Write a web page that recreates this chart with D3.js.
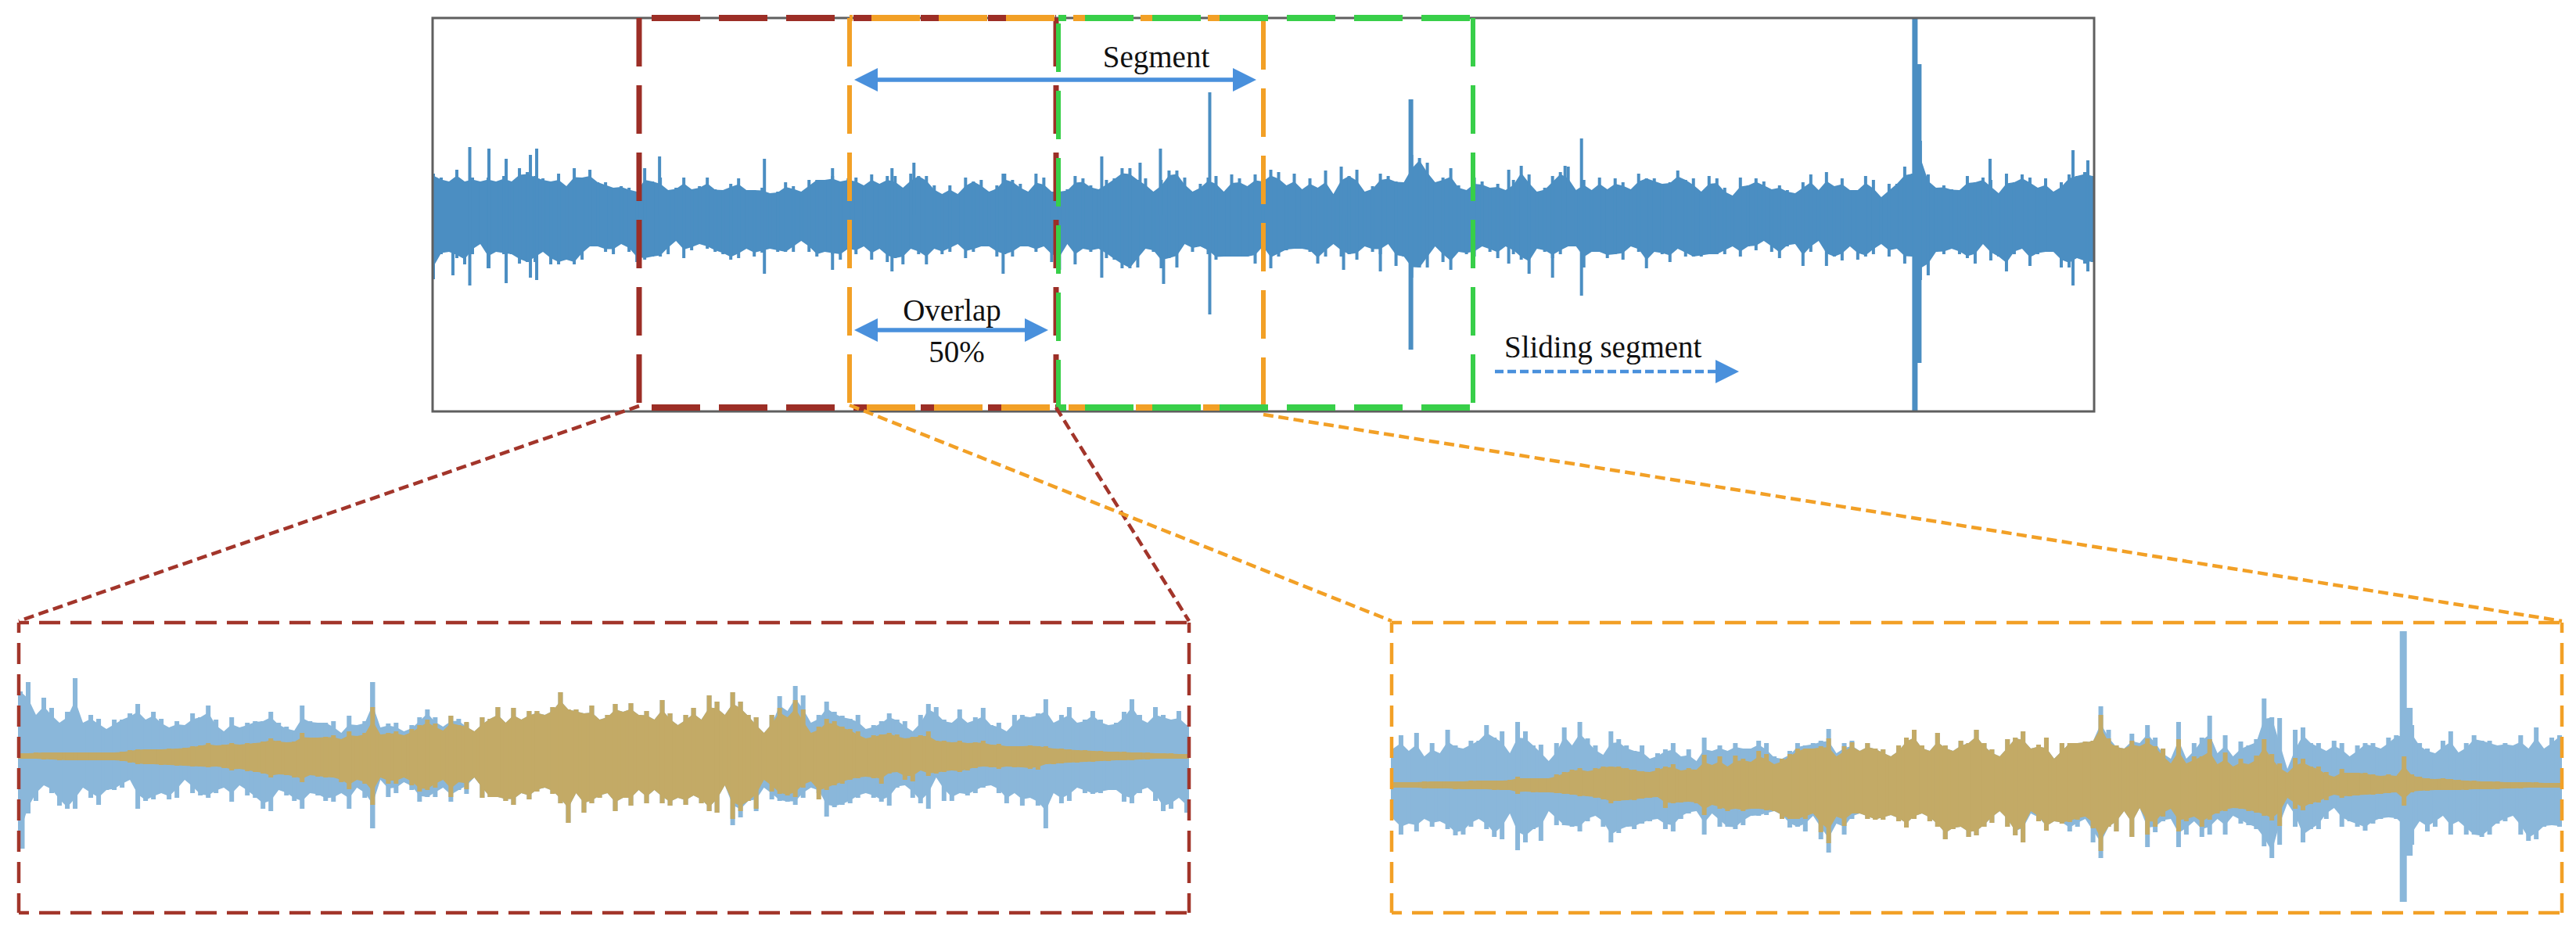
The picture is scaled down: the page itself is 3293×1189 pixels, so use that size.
<!DOCTYPE html>
<html><head><meta charset="utf-8">
<script src="https://d3js.org/d3.v7.min.js"></script>
<style>html,body{margin:0;padding:0;background:#fff}svg{display:block}text{font-family:"Liberation Serif",serif;fill:#111;font-size:39px}</style>
</head><body><svg id="c" width="3293" height="1189"></svg>
<script>
// Full signal: peak amplitude above / below the axis
const topUp=[53,48,43,58,43,48,43,48,43,50,43,60,55,50,47,43,53,37,60,48,58,42,42,35,37,35,30,60,43,48,32,35,48,33,37,48,33,32,40,47,32,32,35,28,30,42,37,30,45,45,45,50,43,47,48,38,52,40,50,50,35,53,50,50,38,27,38,27,48,43,45,30,38,53,45,40,30,53,48,30,30,33,50,47,38,33,45,47,60,60,45,47,30,45,57,57,48,30,40,48,50,30,52,47,37,52,43,58,55,38,53,33,47,35,57,27,62,50,58,30,37,53,50,43,42,77,73,67,42,48,60,38,32,48,43,35,40,32,45,63,52,30,35,50,55,62,32,45,32,48,33,47,42,33,53,47,47,40,42,57,45,47,30,50,47,35,25,48,38,47,43,33,38,32,28,42,52,32,55,37,47,32,32,50,45,23,40,40,62,53,95,52,35,38,33,32,50,42,48,45,28,53,42,52,48,35,47,30,42,52,50,55,50];
const topDown=[82,50,47,55,63,50,37,68,47,50,50,62,60,60,47,63,63,57,63,57,40,40,47,50,37,47,60,57,53,53,50,33,55,45,37,43,47,50,57,55,43,53,48,43,47,47,47,33,47,53,47,50,57,43,50,40,57,43,60,55,63,43,50,63,43,50,47,37,55,47,40,40,53,50,53,40,40,47,40,60,70,37,63,43,47,43,55,57,68,68,67,43,47,68,55,67,37,47,40,50,57,53,53,53,53,62,40,68,53,45,43,43,47,62,53,37,53,50,57,40,47,50,37,65,53,80,67,67,40,60,70,47,50,53,40,47,55,40,50,57,75,43,47,55,50,40,40,67,47,47,55,50,57,40,47,68,47,50,60,43,53,53,53,50,50,50,40,53,40,45,33,47,55,40,37,65,47,33,65,53,58,40,57,53,50,37,53,43,62,53,83,77,47,50,43,50,55,62,37,58,53,72,50,43,65,50,47,47,67,67,55,62,60];
const topSpikeAt=[2.5,4.65,7.1,9.3,12.4,13.2,28.9,42.3,51,58.6,61.4,72.8,85.4,90.3,92.9,93.3,99.2,116.3,121,124.9,137.4,143,144.6,146.7,198.9,209.5,211.4,189.3,189.6];
const topSpikeUp=[0,87,85,72,77,85,75,72,60,60,67,53,75,67,85,0,157,0,0,148,58,0,63,98,72,83,70,252,193];
const topSpikeDown=[77,90,68,87,80,83,0,75,70,72,0,75,80,0,0,88,127,70,72,172,62,80,0,103,0,90,72,251,189];
const topSpikeWidth=[4,4,4,4,4,4,4,4,4,4,4,4,4,4,4,4,4,4,4,6,4,4,4,4,4,4,4,7,11];

// Windowed segment 1 (dark red box)
const seg1BlueUp=[83,95,53,75,62,43,57,100,43,53,48,35,47,47,55,67,47,57,48,37,45,40,55,50,65,47,32,50,37,43,45,45,57,43,38,33,65,45,43,43,45,30,52,40,45,95,37,42,43,32,40,50,60,50,38,52,48,43,32,50,48,63,43,62,47,58,58,53,63,82,60,60,55,65,47,53,67,57,68,53,58,47,72,55,40,53,62,47,78,70,53,82,70,53,50,30,53,77,58,90,78,43,53,70,57,52,48,53,35,40,45,55,47,45,32,53,67,63,47,43,60,43,50,62,40,43,32,53,53,50,55,73,43,53,63,43,47,58,47,40,43,57,73,53,43,63,53,47,58,40];
const seg1BlueDown=[118,73,57,37,47,63,67,67,40,53,62,43,43,40,30,67,57,55,47,55,53,30,47,50,53,47,40,58,37,50,53,67,70,43,50,57,67,47,50,57,58,47,67,40,53,92,30,52,47,33,43,58,52,52,40,58,43,48,27,53,52,52,57,62,47,55,45,40,48,60,85,47,72,60,53,47,70,53,63,43,60,43,60,63,53,62,50,60,70,72,37,88,78,57,70,40,55,57,58,62,53,40,47,77,65,62,60,53,47,53,58,63,40,37,53,60,67,27,57,57,47,50,47,40,37,47,60,47,63,53,63,92,47,60,57,40,47,48,47,43,43,58,60,47,40,57,70,67,53,72];
const seg1GoldUp=[4,4,5,5,5,5,5,5,5,5,5,5,5,6,8,9,9,9,9,10,10,11,13,14,17,14,15,17,15,17,17,19,23,20,18,19,30,24,24,25,27,22,32,26,30,63,28,30,32,27,35,40,47,42,33,52,40,44,32,50,48,63,43,62,47,58,58,53,63,82,60,60,55,65,47,53,67,57,68,53,58,47,72,55,40,53,62,47,78,70,53,82,70,53,50,30,53,62,50,72,60,30,38,48,45,38,35,32,23,27,28,30,28,23,25,27,32,20,20,18,20,17,18,20,15,16,13,13,13,14,13,13,10,10,9,8,8,7,7,6,6,6,5,5,5,4,4,4,3,3];
const seg1GoldDown=[3,3,3,4,4,5,5,5,5,5,5,5,5,6,8,10,10,10,11,11,12,12,13,13,14,13,15,18,16,19,20,22,27,23,24,27,33,24,26,27,27,33,42,30,35,62,27,35,35,27,37,45,43,40,30,52,33,42,27,53,52,52,57,62,47,55,45,40,48,60,85,47,72,60,53,47,70,53,63,43,60,43,60,63,53,62,50,60,70,72,37,80,70,57,67,30,45,48,50,52,40,32,55,43,37,35,30,28,26,28,35,22,20,30,32,18,25,22,20,18,20,18,15,13,14,16,13,14,14,16,17,10,10,9,8,8,7,7,6,6,5,5,5,4,4,3,3,3,3,3];
const seg1SpikeAt=[0.3,7,45];
const seg1SpikeUp=[0,100,95];
const seg1SpikeDown=[118,0,92];

// Windowed segment 2 (orange box)
const seg2BlueUp=[47,64,44,67,37,54,41,71,51,47,57,57,77,61,69,41,81,69,51,52,31,54,74,51,81,60,51,39,69,59,51,44,51,34,41,46,54,37,46,31,61,44,51,44,54,47,47,57,54,37,34,44,54,51,54,57,72,41,54,57,44,54,47,46,37,51,61,71,51,44,67,51,44,57,54,71,54,46,37,59,61,69,47,52,61,34,54,54,54,56,57,101,71,51,47,66,54,77,61,47,34,81,34,54,61,89,41,64,37,56,51,59,111,87,86,21,71,74,54,54,44,57,54,37,51,54,54,47,61,64,64,77,54,47,41,57,69,42,54,64,57,57,51,54,51,64,47,74,47,61,64];
const seg2BlueDown=[43,63,49,59,43,53,46,56,64,63,53,43,56,66,69,36,83,73,56,71,33,51,51,53,59,46,39,53,73,61,53,56,49,46,43,56,59,43,36,33,63,36,53,53,56,51,39,39,38,33,43,54,53,59,39,69,86,49,63,43,36,43,44,44,38,46,54,43,36,46,53,69,56,53,66,64,53,48,33,53,64,73,36,46,58,46,49,59,53,43,73,93,53,59,33,66,29,79,60,46,43,79,63,46,66,63,43,63,39,49,51,56,78,93,76,23,53,73,56,56,43,29,53,46,53,58,49,43,41,43,60,76,46,59,53,39,63,46,63,63,66,63,49,46,39,63,71,69,53,51,53];
const seg2GoldUp=[4,4,4,4,5,5,5,5,5,5,6,6,6,6,6,7,11,9,9,9,9,14,17,20,22,18,22,24,24,24,22,20,18,17,22,24,27,19,22,20,39,26,37,24,38,34,30,44,40,27,34,40,47,47,47,50,60,37,50,55,44,54,47,46,37,51,61,71,51,44,67,51,44,57,54,71,54,46,37,59,61,69,47,52,61,34,54,54,54,56,57,90,60,51,47,57,50,60,50,47,28,59,28,37,37,59,27,42,24,34,27,38,59,40,28,16,35,34,24,24,17,11,21,16,16,16,14,12,14,12,37,14,11,9,8,9,8,7,6,6,5,5,5,4,4,4,4,4,3,3,3];
const seg2GoldDown=[3,3,3,3,4,4,4,4,5,5,5,5,5,6,6,6,11,8,9,9,9,10,11,12,14,14,16,18,23,20,19,19,17,16,15,29,23,22,21,23,38,25,30,33,30,33,30,30,32,33,43,43,43,43,36,60,74,40,52,36,36,43,44,44,38,46,54,43,36,46,53,69,56,53,66,64,53,48,33,53,64,73,33,46,58,46,49,47,44,40,55,84,53,59,33,66,29,63,53,40,30,59,46,40,53,44,36,33,29,30,33,35,39,45,52,16,30,32,24,22,19,12,16,14,13,12,12,11,10,9,26,9,7,7,6,6,6,6,6,5,5,5,5,4,4,4,3,3,3,3,3];
const seg2SpikeAt=[129.9,130.4];
const seg2SpikeUp=[197,99];
const seg2SpikeDown=[149,90];

// Colours and frame geometry
const BLUE="#4b8ec2",LBLUE="#8ab7da",GOLD="#c3aa66",RED="#9c2f26",RED2="#a2342c",ORANGE="#f2a027",GREEN="#37cf4a",ARROW="#4a90dc",FRAME="#5f5f5f";
const F={x0:553,x1:2677,y0:23,y1:526,cy:275};
const B={y0:23,y1:521};
const boxes={red:[817,1350],orange:[1086,1615],green:[1353,1883]};
const P1={x0:24,x1:1520,y0:796,y1:1167,cy:967};
const P2={x0:1779,x1:3275,y0:796,y1:1167,cy:1004};

const svg=d3.select("#c");
const defs=svg.append("defs");
defs.append("filter").attr("id","soft").attr("x",0).attr("y",0).attr("width",1).attr("height",1)
  .attr("filterUnits","objectBoundingBox").append("feGaussianBlur").attr("stdDeviation",0.6);
const g=svg.append("g").attr("filter","url(#soft)");
g.append("rect").attr("width",3293).attr("height",1189).attr("fill","#fff");

// Each sample is one vertical stroke; a solid core sits halfway between the sample and its lowest neighbour.
function envelope(parent,up,down,x,y,fill,barW){
  const core=(arr,i)=>(d3.min(arr.slice(Math.max(0,i-1),i+2))+arr[i])/2;
  const a=d3.area().x((d,i)=>x(i)).y0((d,i)=>y(-core(down,i))).y1((d,i)=>y(core(up,i))).curve(d3.curveLinear);
  parent.append("path").datum(up).attr("d",a).attr("fill",fill);
  parent.append("g").selectAll("line").data(up).join("line")
    .attr("x1",(d,i)=>x(i)).attr("x2",(d,i)=>x(i))
    .attr("y1",d=>y(d)).attr("y2",(d,i)=>y(-down[i]))
    .attr("stroke",fill).attr("stroke-width",barW);
}
function spikes(parent,at,up,down,x,y,color,w){
  parent.append("g").selectAll("line").data(at).join("line")
    .attr("x1",d=>x(d)).attr("x2",d=>x(d))
    .attr("y1",(d,i)=>y(up[i])).attr("y2",(d,i)=>y(-down[i]))
    .attr("stroke",color).attr("stroke-width",(d,i)=>w[i]);
}

// Top panel
const xTop=d3.scaleLinear().domain([0,topUp.length-1]).range([F.x0+1,F.x1-2]);
const yTop=d3.scaleLinear().domain([-252,252]).range([F.cy+252,F.cy-252]);
envelope(g,topUp,topDown,xTop,yTop,BLUE,4);
spikes(g,topSpikeAt,topSpikeUp,topSpikeDown,xTop,yTop,BLUE,topSpikeWidth);
g.append("rect").attr("x",F.x0).attr("y",F.y0).attr("width",F.x1-F.x0).attr("height",F.y1-F.y0)
  .attr("fill","none").attr("stroke",FRAME).attr("stroke-width",3);

// Sliding segment boxes
function seg(x1,y1,x2,y2,color,offset,w,dash){
  g.append("line").attr("x1",x1).attr("y1",y1).attr("x2",x2).attr("y2",y2)
   .attr("stroke",color).attr("stroke-width",w).attr("stroke-dasharray",dash).attr("stroke-dashoffset",offset);
}
const D="62 24";
seg(boxes.red[0],B.y0,boxes.red[1],B.y0,RED,70,8,D);
seg(boxes.red[0],B.y1,boxes.red[1],B.y1,RED,70,8,D);
seg(boxes.red[0],B.y0,boxes.red[0],B.y1,RED,0,7,D);
seg(boxes.red[1],B.y0,boxes.red[1],B.y1,RED,0,7,D);
seg(boxes.orange[0],B.y0,boxes.orange[1],B.y0,ORANGE,58,8,D);
seg(boxes.orange[0],B.y1,boxes.orange[1],B.y1,ORANGE,64,8,D);
seg(boxes.orange[0],B.y0,boxes.orange[0],B.y1,ORANGE,0,6,D);
seg(boxes.orange[1],B.y0,boxes.orange[1],B.y1,ORANGE,-4,6,D);
seg(boxes.green[0],B.y0,boxes.green[1],B.y0,GREEN,52,8,D);
seg(boxes.green[0],B.y1,boxes.green[1],B.y1,GREEN,52,8,D);
seg(boxes.green[0],B.y0,boxes.green[0],B.y1,GREEN,-7,6,D);
seg(boxes.green[1],B.y0,boxes.green[1],B.y1,GREEN,0,6,D);

// Connectors
const CD="13 6.5";
seg(boxes.red[0],519,P1.x0,P1.y0-2,RED2,0,4.5,CD);
seg(boxes.red[1],521,P1.x1,P1.y0-2,RED2,0,4.5,CD);
seg(boxes.orange[0],518,P2.x0,P2.y0-2,ORANGE,0,4.5,CD);
seg(boxes.orange[1],530,P2.x1,P2.y0-2,ORANGE,0,4.5,CD);

// Zoomed panels
function panel(P,bu,bd,gu,gd,sa,su,sd,sw,color){
  const x=d3.scaleLinear().domain([0,bu.length-1]).range([P.x0+2,P.x1-3]);
  const y=d3.scaleLinear().domain([-200,200]).range([P.cy+200,P.cy-200]);
  envelope(g,bu,bd,x,y,LBLUE,6);
  spikes(g,sa,su,sd,x,y,LBLUE,sw);
  envelope(g,gu,gd,x,y,GOLD,6);
  const LD="27 13",w=4.5;
  seg(P.x0,P.y0,P.x1,P.y0,color,14,w,LD);
  seg(P.x0,P.y1,P.x1,P.y1,color,14,w,LD);
  seg(P.x0,P.y0,P.x0,P.y1,color,14,w,LD);
  seg(P.x1,P.y0,P.x1,P.y1,color,14,w,LD);
}
panel(P1,seg1BlueUp,seg1BlueDown,seg1GoldUp,seg1GoldDown,seg1SpikeAt,seg1SpikeUp,seg1SpikeDown,[5,6,6],RED2);
panel(P2,seg2BlueUp,seg2BlueDown,seg2GoldUp,seg2GoldDown,seg2SpikeAt,seg2SpikeUp,seg2SpikeDown,[9,14],ORANGE);

// Arrows
function head(x,y,dir){
  const L=30,H=15;
  g.append("path").attr("d",d3.line()([[x,y],[x-dir*L,y-H],[x-dir*L,y+H]])+"Z").attr("fill",ARROW);
}
function arrow(x1,x2,y,both,dash){
  const l=g.append("line").attr("x1",both?x1+20:x1).attr("x2",x2-20).attr("y1",y).attr("y2",y).attr("stroke",ARROW).attr("stroke-width",dash?4.5:5.5);
  if(dash)l.attr("stroke-dasharray","11 5");
  head(x2,y,1); if(both)head(x1,y,-1);
}
arrow(1092,1606,102,true,false);
arrow(1092,1340,422,true,false);
arrow(1911,2223,475,false,true);

// Labels
const labels=[["Segment",1478,86,"middle"],["Overlap",1217,410,"middle"],["50%",1223,463,"middle"],["Sliding segment",1923,457,"start"]];
svg.selectAll("text").data(labels).join("text").text(d=>d[0]).attr("x",d=>d[1]).attr("y",d=>d[2]).attr("text-anchor",d=>d[3]);
</script></body></html>
